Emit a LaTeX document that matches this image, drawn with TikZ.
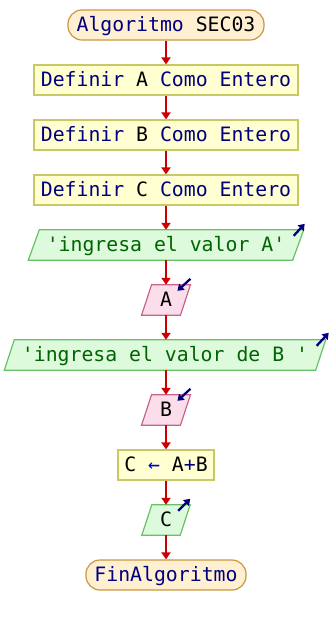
\documentclass[tikz,border=0pt]{standalone}
\usepackage{fontspec}
\setmonofont{DejaVu Sans Mono}
\usetikzlibrary{arrows.meta,calc,backgrounds}

\definecolor{termfill}{HTML}{FFF0D2}
\definecolor{termline}{HTML}{CC9640}
\definecolor{procfill}{HTML}{FFFFD2}
\definecolor{procline}{HTML}{C8C864}
\definecolor{outfill}{HTML}{DDFADD}
\definecolor{outline}{HTML}{66C266}
\definecolor{infill}{HTML}{FCDDEB}
\definecolor{inline}{HTML}{C8648C}
\definecolor{flowred}{HTML}{CC0000}
\definecolor{kwnavy}{HTML}{00007F}
\definecolor{strgreen}{HTML}{006400}
\definecolor{opblue}{HTML}{0000CC}

\newcommand\kw[1]{\textcolor{kwnavy}{#1}}
\newcommand\strlit[1]{\textcolor{strgreen}{#1}}

% parallelogram for input/output: name, x, y, width, slant, kind, text
\newcommand\flowio[7]{%
  \node[txt, minimum width=#4] (#1) at (#2,#3) {#7};
  \begin{pgfonlayer}{background}
    \draw[#6shape] ($(#1.north west)+(#5/2,0)$) -- ($(#1.north east)+(#5/2,0)$)
      -- ($(#1.south east)-(#5/2,0)$) -- ($(#1.south west)-(#5/2,0)$) -- cycle;
  \end{pgfonlayer}}

\tikzset{
  txt/.style={font=\fontsize{19.8}{20}\selectfont\ttfamily, inner sep=0pt,
    minimum height=30pt, text height=13.5pt, text depth=1.5pt},
  termbox/.style={txt, draw=termline, fill=termfill, rounded corners=14pt, line width=1.2pt},
  procbox/.style={txt, draw=procline, fill=procfill, line width=1.2pt},
  outshape/.style={draw=outline, fill=outfill, line width=1.2pt},
  inshape/.style={draw=inline, fill=infill, line width=1.2pt},
  flow/.style={draw=flowred, line width=2pt, -{Triangle[length=7pt,width=9pt]}},
  ioicon/.style={draw=kwnavy, line width=2.3pt, -{Triangle[length=6pt,width=8pt]}},
}

\begin{document}
\begin{tikzpicture}[x=1pt, y=-1pt]
\useasboundingbox (0,0) rectangle (332,625);

% statements
\node[termbox, minimum width=196pt] (start) at (166,25) {\kw{Algoritmo} SEC03};
\node[procbox, minimum width=264pt] (defA) at (166,80) {\kw{Definir} A \kw{Como Entero}};
\node[procbox, minimum width=264pt] (defB) at (166,135) {\kw{Definir} B \kw{Como Entero}};
\node[procbox, minimum width=264pt] (defC) at (166,190) {\kw{Definir} C \kw{Como Entero}};
\flowio{outA}{166}{245}{264pt}{11}{out}{\strlit{'ingresa el valor A'}}
\flowio{inA}{166}{300}{38.5pt}{10}{in}{A}
\flowio{outB}{165}{355}{311pt}{10}{out}{\strlit{'ingresa el valor de B '}}
\flowio{inB}{166}{410}{38.5pt}{10}{in}{B}
\node[procbox, minimum width=96pt] (calc) at (166,465) {C \textcolor{opblue}{←} A\kw{+}B};
\flowio{outC}{166}{520}{38pt}{10}{out}{C}
\node[termbox, minimum width=160pt] (fin) at (166,575) {\kw{FinAlgoritmo}};

% control flow
\draw[flow] (start) -- (defA);
\draw[flow] (defA) -- (defB);
\draw[flow] (defB) -- (defC);
\draw[flow] (defC) -- (outA);
\draw[flow] (outA) -- (inA);
\draw[flow] (inA) -- (inA |- outB.north);
\draw[flow] (outB.south -| inB) -- (inB);
\draw[flow] (inB) -- (calc);
\draw[flow] (calc) -- (outC);
\draw[flow] (outC) -- (fin);

% write / read markers
\draw[ioicon] ($(outA.north east)+(-4.5,6)$) -- ($(outA.north east)+(6.5,-6)$);
\draw[ioicon] ($(inA.north east)+(5,-6)$) -- ($(inA.north east)+(-8,6)$);
\draw[ioicon] ($(outB.north east)+(-4,6)$) -- ($(outB.north east)+(8,-7)$);
\draw[ioicon] ($(inB.north east)+(5,-6)$) -- ($(inB.north east)+(-8,6)$);
\draw[ioicon] ($(outC.north east)+(-7,6)$) -- ($(outC.north east)+(5,-6)$);
\end{tikzpicture}
\end{document}
